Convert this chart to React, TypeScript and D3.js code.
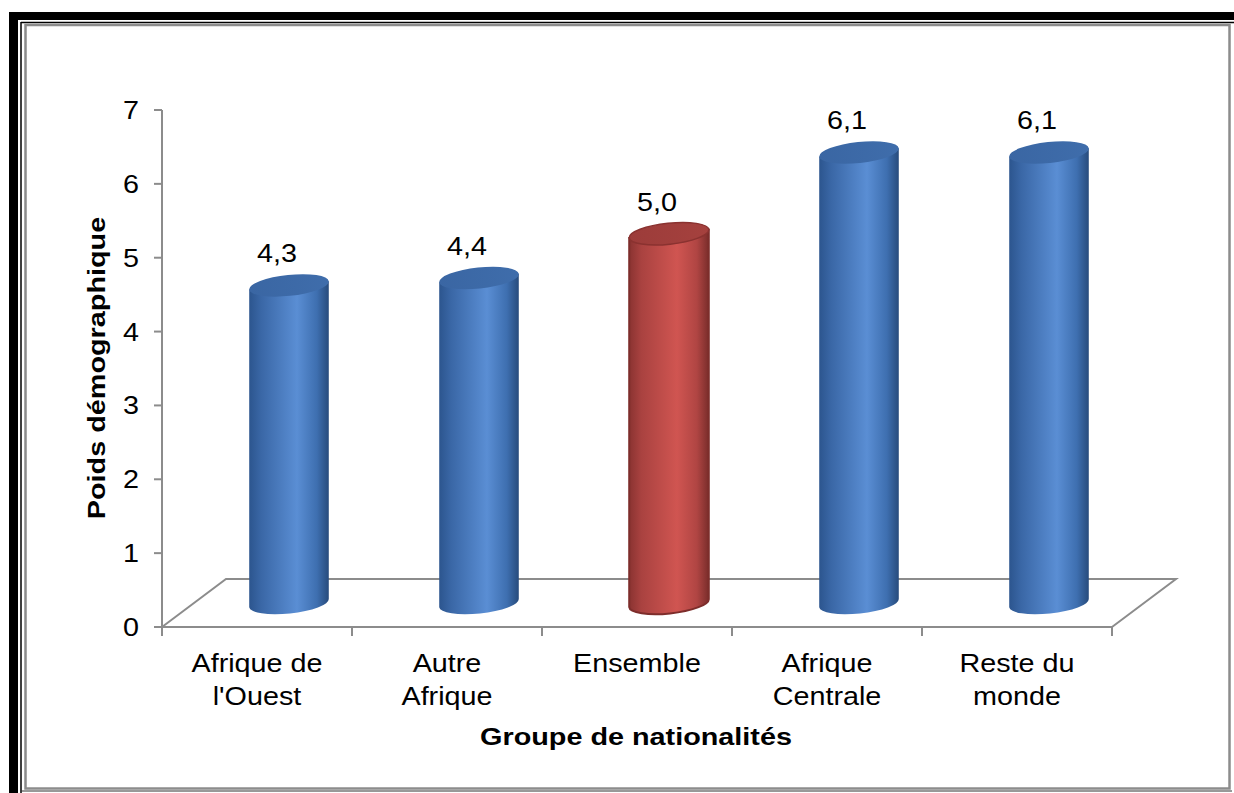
import React from "react";
import * as d3 from "d3";

const categories: string[][] = [
  ["Afrique de", "l'Ouest"],
  ["Autre", "Afrique"],
  ["Ensemble"],
  ["Afrique", "Centrale"],
  ["Reste du", "monde"],
];
const values: number[] = [4.3, 4.4, 5.0, 6.1, 6.1];
const highlight: boolean[] = [false, false, true, false, false];
const yTicks: number[] = [0, 1, 2, 3, 4, 5, 6, 7];
const yTitle = "Poids démographique";
const xTitle = "Groupe de nationalités";

const W = 1234;
const H = 793;
const FONT = "'Liberation Sans', Arial, sans-serif";
const SX = 1.15;
const SXB = 1.2;

export default function App() {
  const x = d3
    .scaleBand<number>()
    .domain(values.map((_, i) => i))
    .range([162, 1112])
    .padding(0);
  const y = d3.scaleLinear().domain([0, 7]).range([627, 110]);
  const DX = 64;
  const DY = -48;
  const midDX = DX / 2;
  const midDY = DY / 2;
  const rx = 40;
  const ry = 10.5;
  const tilt = -6;
  const t = (tilt * Math.PI) / 180;
  const ex = rx * Math.cos(t);
  const ey = rx * Math.sin(t);
  const fmt = (v: number) => d3.format(".1f")(v).replace(".", ",");

  const x0 = 162;
  const x1 = 1112;
  const yb = y(0);

  return (
    <svg
      width={W}
      height={H}
      style={{ position: "absolute", left: 0, top: 0, background: "#fff" }}
      fontFamily={FONT}
    >
      <defs>
        <linearGradient id="gBlue" x1="0" x2="1" y1="0" y2="0">
          <stop offset="0" stopColor="#2c558e" />
          <stop offset="0.15" stopColor="#3a67a6" />
          <stop offset="0.6" stopColor="#5a8ed4" />
          <stop offset="0.85" stopColor="#3e6fb0" />
          <stop offset="1" stopColor="#274b7c" />
        </linearGradient>
        <linearGradient id="gRed" x1="0" x2="1" y1="0" y2="0">
          <stop offset="0" stopColor="#8a3331" />
          <stop offset="0.15" stopColor="#a94240" />
          <stop offset="0.6" stopColor="#d05551" />
          <stop offset="0.85" stopColor="#b04543" />
          <stop offset="1" stopColor="#7a2d2b" />
        </linearGradient>
        <linearGradient id="gBlueTop" x1="0" x2="1" y1="0" y2="0">
          <stop offset="0" stopColor="#3a66a3" />
          <stop offset="1" stopColor="#3f6dab" />
        </linearGradient>
        <linearGradient id="gRedTop" x1="0" x2="1" y1="0" y2="0">
          <stop offset="0" stopColor="#9c3c3a" />
          <stop offset="1" stopColor="#a5413e" />
        </linearGradient>
      </defs>

      {/* frame */}
      <rect x={9} y={12} width={W - 9} height={8} fill="#000" />
      <rect x={9} y={12} width={9} height={H - 12} fill="#000" />
      <line x1={21} y1={22.5} x2={W} y2={22.5} stroke="#000" strokeWidth={1.5} />
      <line x1={21} y1={22} x2={21} y2={H} stroke="#000" strokeWidth={1.5} />
      <line x1={21} y1={791} x2={1232} y2={791} stroke="#333" strokeWidth={1} />
      <rect x={25.5} y={25} width={1204} height={763.5} fill="#fff" stroke="#8c8c8c" strokeWidth={2.5} />

      {/* floor */}
      <g stroke="#8c8c8c" strokeWidth={2} fill="none">
        <path
          d={`M${x0},${yb} L${x0 + DX},${yb + DY} L${x1 + DX},${yb + DY} L${x1},${yb}`}
        />
        <line x1={x0} y1={yb} x2={x1} y2={yb} />
        <line x1={x0} y1={y(7)} x2={x0} y2={yb} />
        {yTicks.map((v) => (
          <line key={v} x1={x0 - 8} x2={x0} y1={y(v)} y2={y(v)} />
        ))}
        {d3.range(values.length + 1).map((i) => {
          const xx = x0 + i * x.bandwidth();
          return <line key={i} x1={xx} x2={xx} y1={yb} y2={yb + 9} />;
        })}
      </g>

      {/* y tick labels */}
      {yTicks.map((v) => (
        <text
          key={v}
          transform={`translate(${x0 - 23},${y(v) + 9}) scale(${SX},1)`}
          textAnchor="end"
          fontSize={25}
          fill="#000"
        >
          {v}
        </text>
      ))}

      {/* bars */}
      {values.map((v, i) => {
        const cx = (x(i) as number) + x.bandwidth() / 2 + midDX;
        const cyB = yb + midDY;
        const cyT = y(v) + midDY;
        const red = highlight[i];
        const body = `M${cx - ex},${cyT - ey} L${cx - ex},${cyB - ey} A${rx},${ry} ${tilt} 0 0 ${cx + ex},${cyB + ey} L${cx + ex},${cyT + ey} Z`;
        return (
          <g key={i}>
            <path
              d={body}
              fill={red ? "url(#gRed)" : "url(#gBlue)"}
              stroke={red ? "#7d2d2b" : "none"}
              strokeWidth={red ? 2 : 0}
            />
            <ellipse
              cx={cx}
              cy={cyT}
              rx={rx}
              ry={ry}
              transform={`rotate(${tilt},${cx},${cyT})`}
              fill={red ? "url(#gRedTop)" : "url(#gBlueTop)"}
              stroke={red ? "#8a3230" : "none"}
              strokeWidth={red ? 1.5 : 0}
            />
            <text
              transform={`translate(${cx - 12},${cyT - 23}) scale(${SX},1)`}
              textAnchor="middle"
              fontSize={25}
              fill="#000"
            >
              {fmt(v)}
            </text>
          </g>
        );
      })}

      {/* category labels */}
      {categories.map((lines, i) => {
        const cx = (x(i) as number) + x.bandwidth() / 2;
        return lines.map((ln, j) => (
          <text
            key={`${i}-${j}`}
            transform={`translate(${cx},${672 + j * 33}) scale(${SX},1)`}
            textAnchor="middle"
            fontSize={25}
            fill="#000"
          >
            {ln}
          </text>
        ));
      })}

      {/* axis titles */}
      <text
        transform={`translate(636,745) scale(${SXB},1)`}
        textAnchor="middle"
        fontSize={24}
        fontWeight="bold"
        fill="#000"
      >
        {xTitle}
      </text>
      <text
        transform={`translate(105,368) rotate(-90) scale(${SXB},1)`}
        textAnchor="middle"
        fontSize={24}
        fontWeight="bold"
        fill="#000"
      >
        {yTitle}
      </text>
    </svg>
  );
}
